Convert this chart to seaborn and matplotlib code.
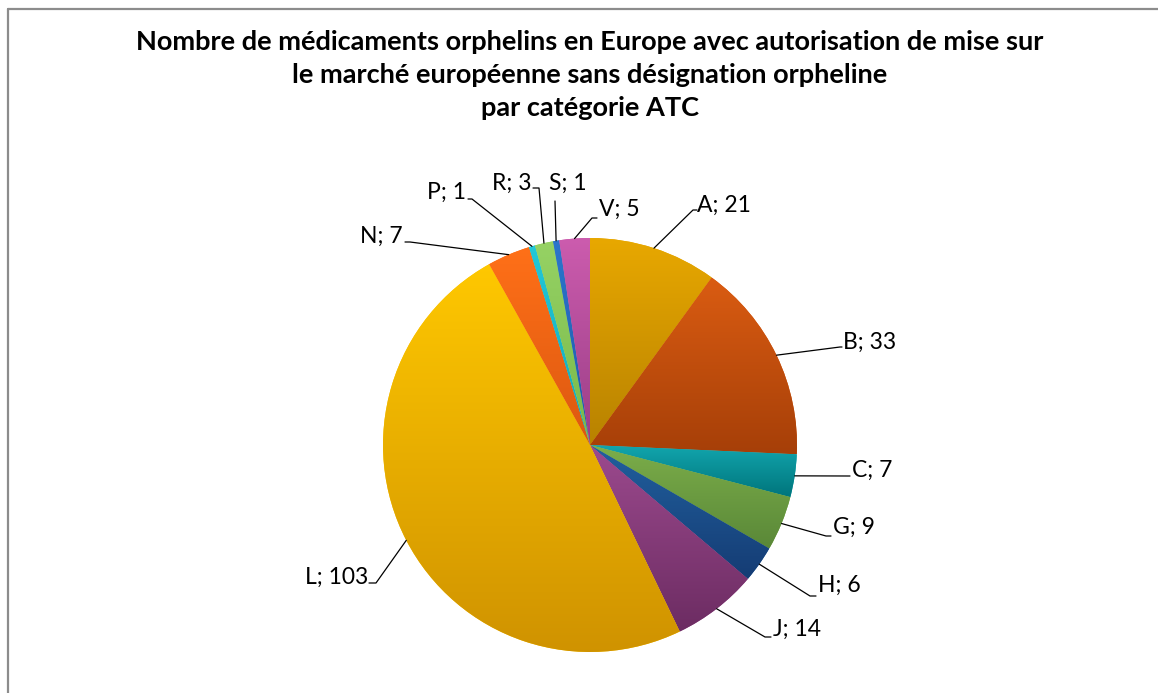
import numpy as np
import matplotlib
matplotlib.use("Agg")
import matplotlib.pyplot as plt
import matplotlib.colors as mcolors
from matplotlib.lines import Line2D
import seaborn as sns

# ATC categories and number of orphan medicines in each
categories = ["A", "B", "C", "G", "H", "J", "L", "N", "P", "R", "S", "V"]
counts = [21, 33, 7, 9, 6, 14, 103, 7, 1, 3, 1, 5]

# (top colour, bottom colour) for each slice's vertical shading
shades = [
    ("#E8A800", "#B88200"),
    ("#DA5C12", "#A63F08"),
    ("#12A6AE", "#00757C"),
    ("#7CAE4A", "#5A8838"),
    ("#21609E", "#153C74"),
    ("#9C4A8E", "#6C2C62"),
    ("#FFC800", "#CF9200"),
    ("#FF7018", "#DC5810"),
    ("#22C8D8", "#12A8B8"),
    ("#96D264", "#78B84A"),
    ("#2C76CC", "#1E58A8"),
    ("#CC5CAE", "#9A3E86"),
]

title = ("Nombre de médicaments orphelins en Europe avec autorisation de mise sur\n"
         "le marché européenne sans désignation orpheline\n"
         "par catégorie ATC")

W, H = 1158, 693
sns.set_theme(style="white")
plt.rcParams["font.family"] = ["Lato", "DejaVu Sans"]

fig = plt.figure(figsize=(W / 100, H / 100), dpi=100)
fig.patch.set_facecolor("white")
ax = fig.add_axes([0, 0, 1, 1])
ax.set_xlim(0, W)
ax.set_ylim(0, H)
ax.set_axis_off()

cx, cy, r = 590, H - 445, 207

wedges, _ = ax.pie(counts, startangle=90, counterclock=False, radius=r,
                   center=(cx, cy), colors=[c[0] for c in shades],
                   wedgeprops=dict(linewidth=0), frame=False)

# vertical gradient inside every slice
for w, (top, bot) in zip(wedges, shades):
    verts = w.get_path().vertices
    xs, ys = verts[:, 0], verts[:, 1]
    y0, y1 = ys.min(), ys.max()
    x0, x1 = xs.min(), xs.max()
    t = np.linspace(0, 1, 256)[:, None]
    c_top = np.array(mcolors.to_rgb(top))
    c_bot = np.array(mcolors.to_rgb(bot))
    img = c_top[None, None, :] * (1 - t[:, :, None]) + c_bot[None, None, :] * t[:, :, None]
    img = np.repeat(img, 2, axis=1)
    im = ax.imshow(img, extent=(x0, x1, y0, y1), origin="upper",
                   aspect="auto", interpolation="bilinear", zorder=2)
    im.set_clip_path(w)

ax.set_xlim(0, W)
ax.set_ylim(0, H)

# label placement: (text x, text y, horizontal alignment, elbow x, elbow y, end x)
layout = {
    "A": (697, 205, "left", 693, 210, 697),
    "B": (843, 342, "left", 840, 347, 842),
    "C": (852, 470, "left", 848, 476, 850),
    "G": (833, 527, "left", 826, 536, 831),
    "H": (818, 585, "left", 810, 596, 816),
    "J": (773, 629, "left", 765, 637, 771),
    "L": (368, 577, "right", 376, 583, 369),
    "N": (403, 236, "right", 410, 242, 405),
    "P": (466, 192, "right", 472, 199, 468),
    "R": (531, 183, "right", 539, 188, 533),
    "S": (549, 183, "left", 555, 201, 555),
    "V": (599, 209, "left", 592, 218, 597),
}

total = sum(counts)
cum = 0
for cat, val in zip(categories, counts):
    mid = (cum + val / 2) / total * 2 * np.pi
    cum += val
    ax_x = cx + r * np.sin(mid)
    ax_y = cy + r * np.cos(mid)
    tx, ty, ha, ex, ey, endx = layout[cat]
    ax.add_line(Line2D([ax_x, ex, endx], [ax_y, H - ey, H - ey],
                       color="black", lw=0.9, zorder=3))
    ax.text(tx, H - ty, f"{cat}; {val}", ha=ha, va="center",
            fontsize=16.5, color="black", zorder=4)

ax.text(590, H - 75, title, ha="center", va="center", fontsize=19.5,
        fontweight="bold", linespacing=1.45, color="black")

# chart frame
fig.add_artist(Line2D([8 / W, 1], [1 - 9 / H, 1 - 9 / H], transform=fig.transFigure,
                      color="#8C8C8C", lw=1.6))
fig.add_artist(Line2D([8 / W, 8 / W], [0, 1 - 9 / H], transform=fig.transFigure,
                      color="#8C8C8C", lw=1.6))

fig.savefig("out.png", dpi=100, facecolor="white")
